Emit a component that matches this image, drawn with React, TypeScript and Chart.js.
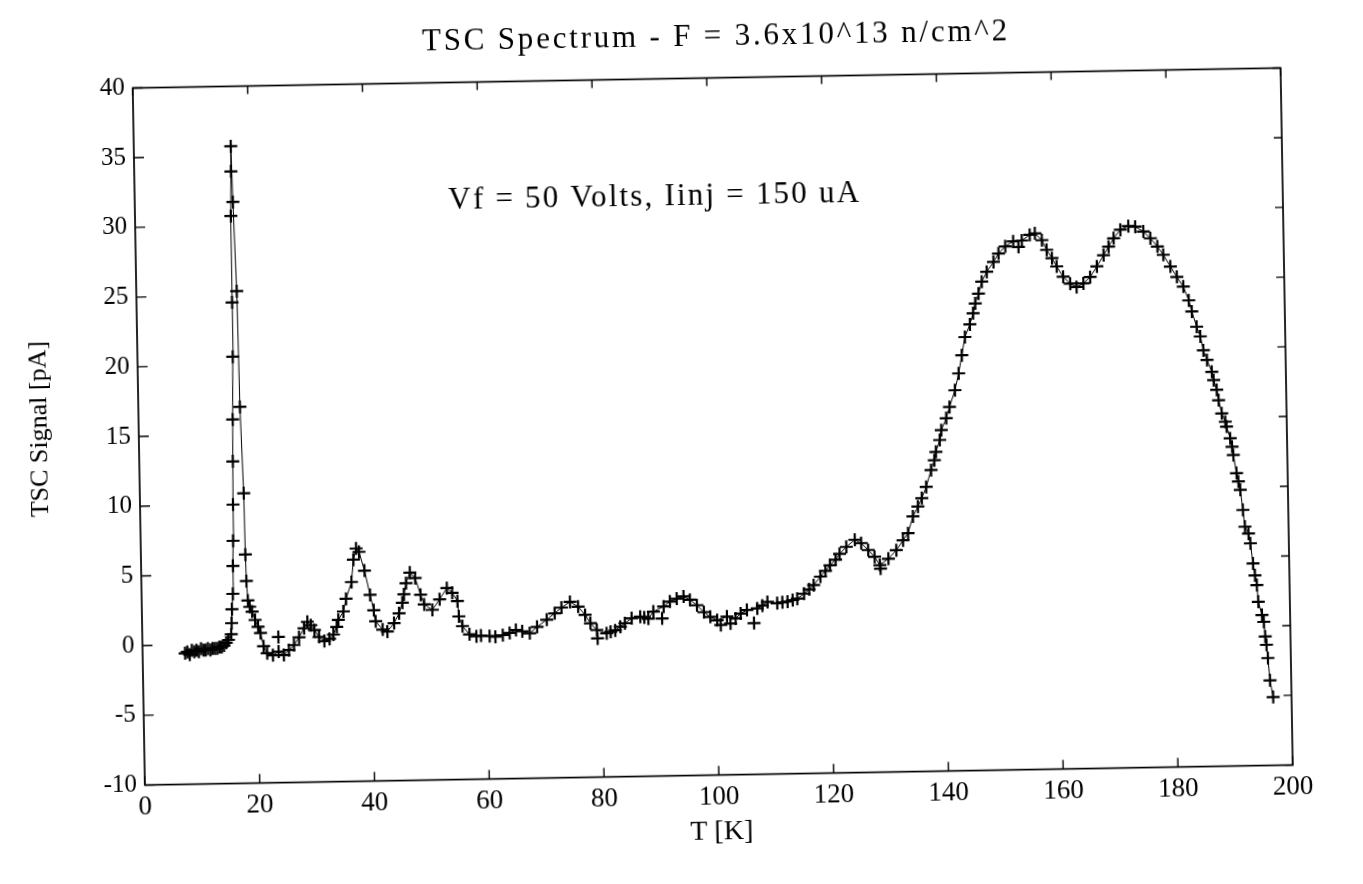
import React, { useEffect, useRef } from "react";
import { Chart, registerables } from "chart.js";

Chart.register(...registerables);

// ---- data (T in K, signal in pA) ----
const tempK = [
  7.4, 7.8, 8.2, 8.6, 9.0, 9.4, 9.8, 10.2, 10.6, 11.0, 11.4, 11.8, 12.2, 12.6, 13.0, 13.4, 13.8, 14.2, 14.6, 15.0,
  15.5, 15.6, 15.7, 15.9, 16.0, 16.1, 16.2, 16.3, 16.4, 16.6, 16.65, 16.7, 16.85, 16.9, 17.1, 17.5, 17.7, 18.1, 18.2, 18.3, 18.5,
  18.8, 19.2, 19.7, 20.2, 20.6, 21.1, 21.7, 22.7, 23.7, 24.6, 25.5, 26.4, 27.3, 28.2, 28.8, 29.4, 30.0, 30.8, 31.7, 32.6,
  33.3, 33.9, 34.2, 35.1, 35.6, 36.6, 37.0, 37.5, 38.0, 38.9, 39.8, 40.4, 40.7, 41.9, 42.7, 43.9, 44.8, 45.4, 45.7, 46.1,
  46.8, 47.7, 48.6, 49.2, 50.6, 51.9, 53.2, 54.1, 55.0, 55.2, 55.8, 57.0,
  58.2, 59.0, 60.5, 61.5, 62.8, 64.0, 65.1, 66.2, 67.5, 68.8, 70.5, 71.9, 73.1, 74.6, 76.0, 77.2, 78.1, 79.2, 80.9,
  81.6, 82.4, 83.3, 84.1, 85.3, 86.8, 87.5, 88.2, 89.1, 90.9, 92.0, 93.2, 94.4, 95.5, 96.7, 97.9, 99.0, 100.2,
  101.9, 103.4, 104.3, 105.4, 107.2, 108.1, 109.0, 110.7, 111.6, 112.5, 113.4, 114.2, 115.4, 116.3, 117.1, 118.3, 119.2, 120.0,
  121.0, 121.7, 122.9, 124.4, 125.5, 126.7, 127.8, 128.7, 130.2, 131.6, 132.8, 133.7, 134.6, 135.5, 136.2, 137.0, 137.9, 138.5, 138.8,
  139.5, 139.8, 140.7, 141.3, 142.3, 143.0, 143.6, 144.2, 145.1, 145.7, 146.1, 146.7, 147.3, 148.2, 149.4, 150.3, 151.5, 152.9, 154.4, 155.8,
  156.7, 157.9, 158.7, 159.6, 160.4, 161.5, 162.7, 163.8, 165.0, 166.2, 167.4, 168.6, 169.5, 170.4, 171.6, 173.0, 174.2, 175.6, 176.8, 178.0,
  179.0, 180.2, 181.3, 182.4, 183.3, 183.8, 184.6, 185.2, 185.7, 186.3, 187.1, 187.4, 187.9, 188.2, 188.7, 189.3, 189.5, 190.1, 190.4, 190.6,
  191.1, 191.4, 191.7, 192.1, 192.4, 193.0, 193.3, 193.7, 194.0, 194.3, 194.5, 195.1, 195.4, 195.6, 195.8, 196.0, 196.3, 196.8,
];

const signalPA = [
  -0.6, -0.5, -0.7, -0.4, -0.5, -0.4, -0.5, -0.3, -0.4, -0.4, -0.3, -0.4, -0.3, -0.3, -0.3, -0.2, -0.2, -0.1, 0.1, 0.3,
  0.7, 1.5, 2.5, 3.6, 5.6, 7.4, 10.0, 13.1, 16.1, 20.6, 24.5, 30.7, 33.9, 35.7, 31.7, 25.3, 17.0, 10.8, 6.4, 4.5, 3.1,
  2.65, 2.3, 1.7, 1.2, 0.75, -0.2, -0.7, -0.85, -0.6, -0.85, -0.5, -0.15, 0.4, 1.05, 1.5, 1.25, 0.9, 0.4, 0.1, 0.25,
  0.55, 1.1, 1.6, 2.2, 3.1, 4.3, 5.9, 6.7, 6.45, 5.1, 3.35, 2.25, 1.45, 0.85, 0.7, 1.3, 2.0, 2.75, 3.35, 4.15,
  4.9, 4.5, 3.3, 2.6, 2.2, 2.95, 3.75, 3.4, 2.8, 1.7, 1.0, 0.4,
  0.25, 0.3, 0.25, 0.2, 0.3, 0.45, 0.65, 0.55, 0.4, 0.85, 1.35, 1.8, 2.2, 2.6, 2.25, 1.65, 1.05, 0.55, 0.3,
  0.4, 0.5, 0.75, 1.0, 1.35, 1.45, 1.4, 1.3, 1.8, 2.15, 2.5, 2.7, 2.85, 2.6, 2.2, 1.7, 1.35, 1.1,
  1.35, 1.2, 1.55, 1.8, 1.9, 2.1, 2.35, 2.25, 2.3, 2.35, 2.45, 2.55, 2.9, 3.2, 3.5, 4.1, 4.5, 4.9,
  5.3, 5.7, 6.2, 6.7, 6.45, 5.95, 5.45, 4.85, 5.3, 5.9, 6.6, 7.1, 8.3, 9.0, 9.6, 10.4, 11.6, 12.3, 12.9,
  13.75, 14.45, 15.3, 16.1, 17.3, 18.5, 19.8, 21.1, 22.0, 22.8, 23.5, 24.2, 25.05, 25.75, 26.45, 27.05, 27.55, 27.9, 27.95, 28.35,
  28.45, 27.95, 27.25, 26.65, 26.05, 25.3, 24.8, 24.55, 24.8, 25.25, 26.0, 26.8, 27.4, 28.0, 28.6, 28.85, 28.8, 28.45, 27.95, 27.35,
  26.75, 25.9, 25.15, 24.45, 23.45, 22.65, 21.55, 20.85, 19.85, 19.15, 18.3, 17.7, 17.0, 16.25, 15.3, 14.7, 14.35, 13.5, 12.9, 12.3,
  11.0, 10.4, 9.8, 8.35, 7.15, 6.65, 5.95, 4.5, 3.65, 2.95, 1.75, 0.8, 0.3, -0.75, -1.35, -2.3, -3.9, -5.1,
];

// stray crosses lying off the traced curve
const strayTempK = [23.7, 79.3, 90.6, 100.8, 102.5, 106.6, 128.8, 153.8];
const straySignalPA = [0.45, -0.05, 1.3, 0.75, 0.85, 0.85, 4.6, 27.5];

const xTickValues = [0, 20, 40, 60, 80, 100, 120, 140, 160, 180, 200];
const yTickValues = [-10, -5, 0, 5, 10, 15, 20, 25, 30, 35, 40];

const titleText = "TSC Spectrum - F = 3.6x10^13 n/cm^2";
const noteText = "Vf = 50 Volts, Iinj = 150 uA";
const xTitleText = "T [K]";
const yTitleText = "TSC Signal [pA]";

const W = 1347;
const H = 868;
const FONT = '"Liberation Serif", "Times New Roman", serif';

export default function App() {
  const canvasRef = useRef<HTMLCanvasElement>(null);

  useEffect(() => {
    const canvas = canvasRef.current;
    if (!canvas) return;

    const mainPoints = tempK.map((t, i) => ({ x: t, y: signalPA[i] }));
    const strayPoints = strayTempK.map((t, i) => ({ x: t, y: straySignalPA[i] }));

    const framePlugin = {
      id: "frameAndText",
      afterDraw(chart: any) {
        const { ctx, chartArea: a, scales } = chart;
        ctx.save();
        ctx.strokeStyle = "#000";
        ctx.lineWidth = 1.7;
        ctx.strokeRect(a.left, a.top, a.right - a.left, a.bottom - a.top);
        ctx.lineWidth = 1.4;
        ctx.beginPath();
        xTickValues.forEach((v) => {
          const px = scales.x.getPixelForValue(v);
          ctx.moveTo(px, a.bottom);
          ctx.lineTo(px, a.bottom - 9);
          ctx.moveTo(px, a.top);
          ctx.lineTo(px, a.top + 8);
        });
        yTickValues.forEach((v) => {
          const py = scales.y.getPixelForValue(v);
          ctx.moveTo(a.left, py);
          ctx.lineTo(a.left + 10, py);
          ctx.moveTo(a.right, py);
          ctx.lineTo(a.right - 8, py);
        });
        ctx.stroke();

        ctx.fillStyle = "#000";
        ctx.textAlign = "center";
        ctx.textBaseline = "middle";
        ctx.font = `31px ${FONT}`;
        (ctx as any).letterSpacing = "2.8px";
        ctx.fillText(titleText, (a.left + a.right) / 2 + 10, 30);
        (ctx as any).letterSpacing = "2.2px";
        ctx.fillText(noteText, scales.x.getPixelForValue(90.6), scales.y.getPixelForValue(31.5));
        (ctx as any).letterSpacing = "0px";

        ctx.font = `28px ${FONT}`;
        ctx.fillText(xTitleText, (a.left + a.right) / 2 + 2, 825);

        ctx.translate(32, 410);
        ctx.rotate(-Math.PI / 2);
        ctx.font = `26px ${FONT}`;
        ctx.fillText(yTitleText, 0, 0);
        ctx.restore();
      },
    };

    const chart = new Chart(canvas, {
      type: "scatter",
      data: {
        datasets: [
          {
            data: mainPoints,
            showLine: true,
            borderColor: "#000",
            borderWidth: 1,
            tension: 0,
            pointStyle: "cross",
            pointRadius: 6.5,
            pointBorderWidth: 2.2,
            pointBorderColor: "#000",
            pointBackgroundColor: "#000",
          },
          {
            data: strayPoints,
            showLine: false,
            pointStyle: "cross",
            pointRadius: 6.5,
            pointBorderWidth: 2.2,
            pointBorderColor: "#000",
            pointBackgroundColor: "#000",
          },
        ],
      },
      options: {
        animation: false,
        responsive: false,
        maintainAspectRatio: false,
        devicePixelRatio: 1,
        layout: { padding: { top: 70.5, right: 68, bottom: 0, left: 0 } },
        plugins: {
          legend: { display: false },
          tooltip: { enabled: false },
          title: { display: false },
        },
        scales: {
          x: {
            type: "linear",
            min: 0,
            max: 200,
            grid: { display: false, drawTicks: false },
            border: { display: false },
            ticks: {
              stepSize: 20,
              color: "#000",
              padding: 6,
              maxRotation: 0,
              autoSkip: false,
              font: { family: FONT, size: 27 },
            },
            afterFit: (scale: any) => {
              scale.height = 100.4;
            },
          },
          y: {
            type: "linear",
            min: -10,
            max: 40,
            grid: { display: false, drawTicks: false },
            border: { display: false },
            ticks: {
              stepSize: 5,
              color: "#000",
              padding: 8,
              font: { family: FONT, size: 25 },
            },
            afterFit: (scale: any) => {
              scale.width = 131;
            },
          },
        },
      },
      plugins: [framePlugin],
    });

    return () => chart.destroy();
  }, []);

  return (
    <div style={{ width: W, height: H, overflow: "hidden", position: "relative", background: "#fff" }}>
      <canvas
        ref={canvasRef}
        width={W}
        height={H}
        style={{ display: "block", width: W, height: H, transform: "rotate(-1deg)", transformOrigin: "50% 50%" }}
      />
    </div>
  );
}
